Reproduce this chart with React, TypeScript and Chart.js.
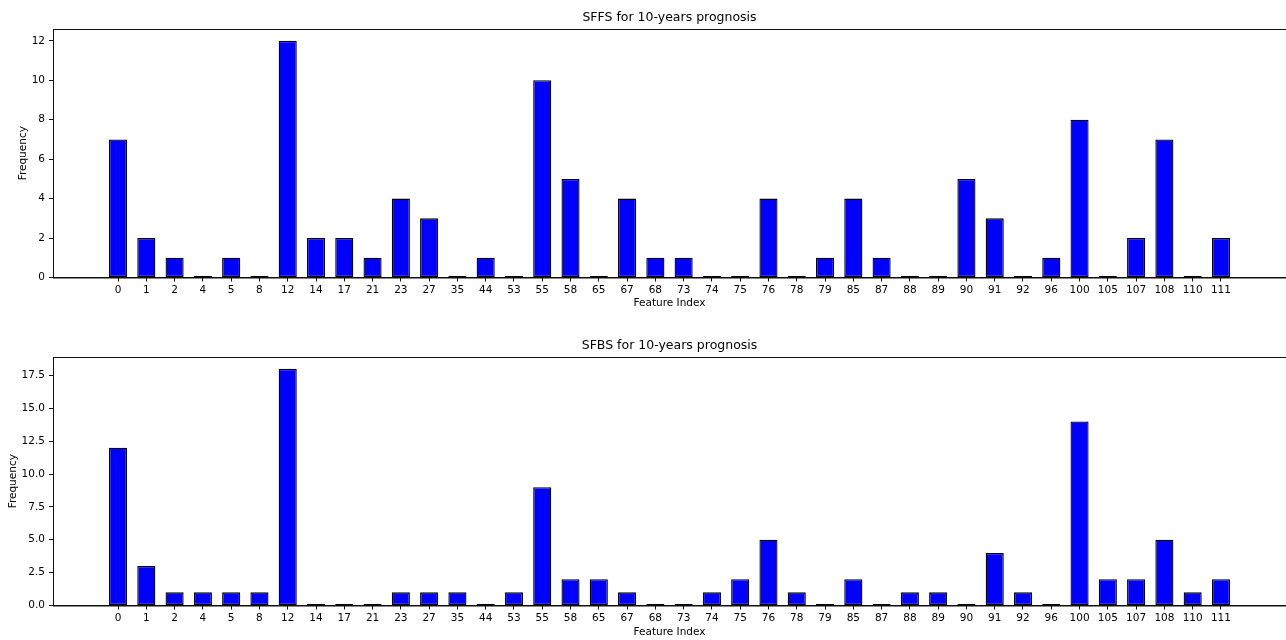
import React, { useEffect, useRef } from "react";
import { Chart, registerables } from "chart.js";

Chart.register(...registerables);

const featureLabels = ["0","1","2","4","5","8","12","14","17","21","23","27","35","44","53","55","58","65","67","68","73","74","75","76","78","79","85","87","88","89","90","91","92","96","100","105","107","108","110","111"];

const sffsValues = [7,2,1,0,1,0,12,2,2,1,4,3,0,1,0,10,5,0,4,1,1,0,0,4,0,1,4,1,0,0,5,3,0,1,8,0,2,7,0,2];
const sfbsValues = [12,3,1,1,1,1,18,0,0,0,1,1,1,0,1,9,2,2,1,0,0,1,2,5,1,0,2,0,1,1,0,4,1,0,14,2,2,5,1,2];

const sffsYTicks = [0,2,4,6,8,10,12];
const sfbsYTicks = [0,2.5,5,7.5,10,12.5,15,17.5];

const FONT = "'DejaVu Sans', sans-serif";

const framePlugin = {
  id: "frame",
  afterDraw(chart: any) {
    const { ctx, chartArea } = chart;
    ctx.save();
    ctx.strokeStyle = "#111";
    ctx.lineWidth = 1;
    ctx.strokeRect(Math.round(chartArea.left) + 0.5, Math.round(chartArea.top) + 0.5, chartArea.right - chartArea.left, chartArea.bottom - chartArea.top);
    ctx.restore();
  },
};

type PanelProps = {
  title: string;
  values: number[];
  yTicks: number[];
  yMax: number;
  decimals: number;
  titlePadTop: number;
  xAxisHeight: number;
  yTitlePad: number;
  xTitlePadBottom: number;
  height: number;
};

function Panel(p: PanelProps) {
  const ref = useRef<HTMLCanvasElement | null>(null);
  useEffect(() => {
    if (!ref.current) return;
    const chart = new Chart(ref.current, {
      type: "bar",
      data: {
        datasets: [
          {
            data: p.values.map((v, i) => ({ x: i, y: v })),
            backgroundColor: "#0000ff",
            borderColor: "#000000",
            borderWidth: 1.3,
            borderSkipped: false,
            minBarLength: 1.6,
            categoryPercentage: 1,
            barPercentage: 0.64,
          } as any,
        ],
      },
      options: {
        animation: false,
        responsive: true,
        maintainAspectRatio: false,
        layout: { padding: 0 },
        plugins: {
          legend: { display: false },
          tooltip: { enabled: false },
          title: {
            display: true,
            text: p.title,
            fullSize: false,
            color: "#000",
            font: { family: FONT, size: 12.5, weight: "normal" },
            padding: { top: p.titlePadTop, bottom: 3.5 },
          },
        },
        scales: {
          x: {
            type: "linear",
            min: -2.3,
            max: 41.3,
            offset: false,
            afterBuildTicks: (scale: any) => {
              scale.ticks = featureLabels.map((_, i) => ({ value: i }));
            },
            afterFit: (scale: any) => {
              scale.height = p.xAxisHeight;
            },
            ticks: {
              autoSkip: false,
              maxRotation: 0,
              minRotation: 0,
              padding: 2,
              color: "#000",
              font: { family: FONT, size: 10.5 },
              callback: (v: any) => featureLabels[Math.round(Number(v))] ?? "",
            },
            grid: {
              offset: false,
              drawOnChartArea: false,
              drawTicks: true,
              tickLength: 4,
              color: "#111",
            },
            border: { display: true, color: "#111", width: 1 },
            title: {
              display: true,
              text: "Feature Index",
              color: "#000",
              font: { family: FONT, size: 10.5 },
              padding: { top: 0, bottom: p.xTitlePadBottom },
            },
          } as any,
          y: {
            type: "linear",
            min: 0,
            max: p.yMax,
            afterBuildTicks: (scale: any) => {
              scale.ticks = p.yTicks.map((v) => ({ value: v }));
            },
            afterFit: (scale: any) => {
              scale.width = 53;
            },
            ticks: {
              padding: 4,
              color: "#000",
              font: { family: FONT, size: 10.5 },
              callback: (v: any) => Number(v).toFixed(p.decimals),
            },
            grid: {
              drawOnChartArea: false,
              drawTicks: true,
              tickLength: 4,
              color: "#111",
            },
            border: { display: true, color: "#111", width: 1 },
            title: {
              display: true,
              text: "Frequency",
              color: "#000",
              font: { family: FONT, size: 10.5 },
              padding: { top: p.yTitlePad, bottom: 0 },
            },
          } as any,
        },
      },
      plugins: [framePlugin],
    });
    return () => chart.destroy();
  }, []);
  return (
    <div style={{ position: "relative", width: 1286, height: p.height }}>
      <canvas ref={ref} />
    </div>
  );
}

export default function App() {
  return (
    <div style={{ position: "fixed", left: 0, top: 0, width: 1286, height: 640, background: "#fff" }}>
      <Panel
        title="SFFS for 10-years prognosis"
        values={sffsValues}
        yTicks={sffsYTicks}
        yMax={12.6}
        decimals={0}
        titlePadTop={10.5}
        xAxisHeight={42.5}
        yTitlePad={16.75}
        xTitlePadBottom={10.75}
        height={320}
      />
      <Panel
        title="SFBS for 10-years prognosis"
        values={sfbsValues}
        yTicks={sfbsYTicks}
        yMax={18.9}
        decimals={1}
        titlePadTop={18.5}
        xAxisHeight={34.5}
        yTitlePad={6.75}
        xTitlePadBottom={1.75}
        height={320}
      />
    </div>
  );
}
